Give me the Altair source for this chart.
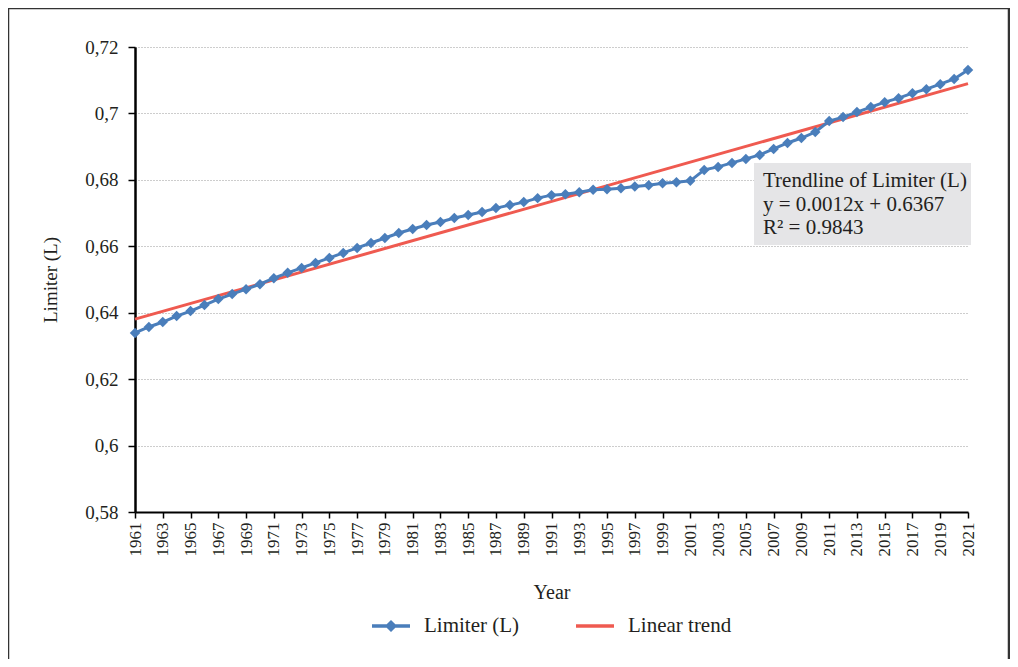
import altair as alt
import pandas as pd

years = list(range(1961, 2022))
limiter = [
    0.6339, 0.6357, 0.6372, 0.6390, 0.6405, 0.6423, 0.6441, 0.6456, 0.6471, 0.6486,
    0.6504, 0.6520, 0.6535, 0.6550, 0.6565, 0.6580, 0.6595, 0.6610, 0.6625, 0.6640,
    0.6652, 0.6664, 0.6673, 0.6685, 0.6694, 0.6703, 0.6715, 0.6724, 0.6733, 0.6745,
    0.6754, 0.6757, 0.6763, 0.6770, 0.6772, 0.6775, 0.6780, 0.6784, 0.6790, 0.6793,
    0.6797, 0.6830, 0.6839, 0.6851, 0.6863, 0.6875, 0.6893, 0.6911, 0.6926, 0.6944,
    0.6977, 0.6989, 0.7004, 0.7019, 0.7034, 0.7046, 0.7061, 0.7073, 0.7088, 0.7104,
    0.7131,
]
series_names = ["Limiter (L)", "Linear trend"]
series_colors = ["#4a7ebb", "#ef5a50"]
y_ticks = [0.58, 0.60, 0.62, 0.64, 0.66, 0.68, 0.70, 0.72]
x_ticks = list(range(1961, 2022, 2))
box_text = "Trendline of Limiter (L)\ny = 0.0012x + 0.6367\nR² = 0.9843"

FONT = "Liberation Serif"
TXT = "#231f20"

df = pd.DataFrame({"Year": years, "Limiter": limiter, "Series": series_names[0]})

color_scale = alt.Scale(domain=series_names, range=series_colors)
legend_shapes = [
    "M-1,-0.09H1V0.09H-1Z M0,-0.32L0.32,0L0,0.32L-0.32,0Z",
    "M-1,-0.09H1V0.09H-1Z",
]
shape_scale = alt.Scale(domain=series_names, range=legend_shapes)

legend = alt.Legend(
    title=None, orient="none", legendX=237, legendY=560, direction="horizontal",
    symbolSize=1444, symbolStrokeWidth=0, symbolOpacity=1, labelFont=FONT,
    labelFontSize=21, labelColor=TXT, labelOffset=14, columnPadding=56, padding=0,
)

x_enc = alt.X(
    "Year:Q",
    scale=alt.Scale(domain=[1961, 2021], nice=False, zero=False),
    axis=alt.Axis(
        values=x_ticks, format="d", labelAngle=270, labelAlign="right",
        labelBaseline="middle", labelFont=FONT, labelFontSize=17, labelColor=TXT,
        labelPadding=4, grid=False, tickSize=6, tickColor="black", tickWidth=1.5,
        domainColor="black", domainWidth=2, title="Year", titleFont=FONT,
        titleFontSize=20, titleFontWeight="normal", titleColor=TXT, titlePadding=26,
        labelOverlap=False,
    ),
)
y_enc = alt.Y(
    "Limiter:Q",
    scale=alt.Scale(domain=[0.58, 0.72], nice=False, zero=False),
    axis=alt.Axis(
        values=y_ticks, labelExpr="replace(format(datum.value, '.2~f'), '.', ',')",
        labelFont=FONT, labelFontSize=19, labelColor=TXT, labelPadding=10,
        grid=True, gridColor="#9a9a9a", gridDash=[1, 2], gridWidth=1,
        tickSize=7, tickColor="black", tickWidth=1.5, domainColor="black",
        domainWidth=2.5, title="Limiter (L)", titleFont=FONT, titleFontSize=19,
        titleFontWeight="normal", titleColor=TXT, titlePadding=24,
    ),
)

base = alt.Chart(df)

trend = base.transform_regression("Year", "Limiter").mark_line(
    strokeWidth=3, color=series_colors[1]
).encode(x=x_enc, y=y_enc)

line = base.mark_line(strokeWidth=3, color=series_colors[0]).encode(x=x_enc, y=y_enc)

points = base.mark_point(
    shape="diamond", filled=True, size=110, opacity=1, color=series_colors[0]
).encode(x=x_enc, y=y_enc)

legend_layer = base.transform_filter("false").mark_point(filled=True, opacity=1).encode(
    x=x_enc, y=y_enc,
    color=alt.Color("Series:N", scale=color_scale, legend=legend),
    shape=alt.Shape("Series:N", scale=shape_scale, legend=legend),
)

one = pd.DataFrame({"t": [0]})

frame = alt.Chart(one).mark_rect(fill="transparent", stroke="#333333", strokeWidth=2.5).encode(
    x=alt.value(-127), x2=alt.value(874), y=alt.value(-39), y2=alt.value(700)
)

box = alt.Chart(one).mark_rect(color="#e5e5e7").encode(
    x=alt.value(619), x2=alt.value(836), y=alt.value(116), y2=alt.value(198)
)

box_label = alt.Chart(one).mark_text(
    align="left", baseline="middle", lineBreak="\n", lineHeight=23.5,
    font=FONT, fontSize=21, color=TXT,
).encode(x=alt.value(628), y=alt.value(134), text=alt.value(box_text))

chart = alt.layer(frame, box, trend, line, points, legend_layer, box_label).properties(
    width=833, height=465,
    autosize=alt.AutoSizeParams(type="none"),
    padding={"left": 127, "top": 39, "right": 42, "bottom": 147},
).configure_view(stroke=None)

chart.save("out.html", embed_options={"renderer": "svg", "actions": False})
